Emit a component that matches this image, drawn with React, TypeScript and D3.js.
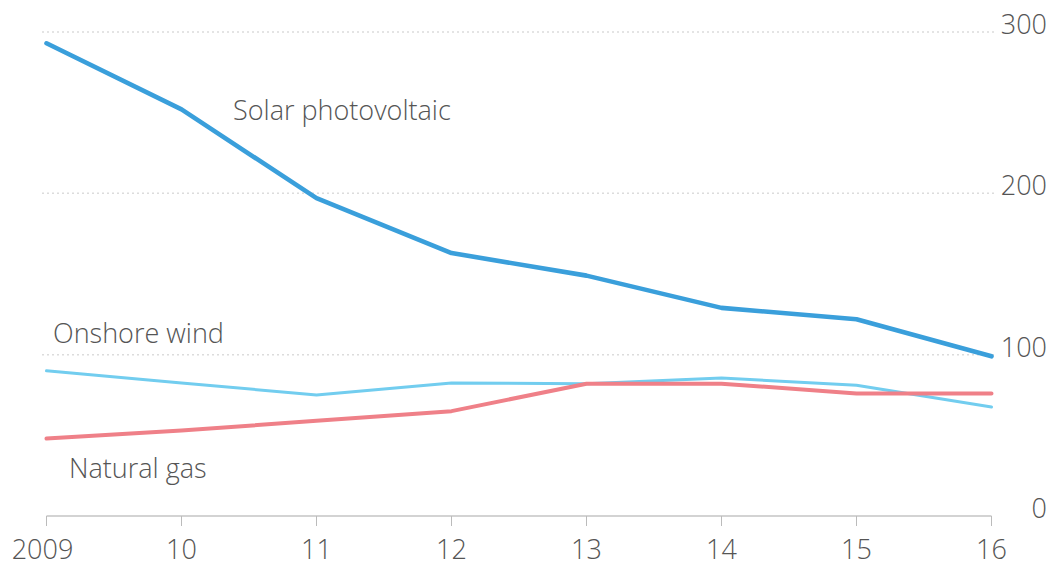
import React from "react";
import * as d3 from "d3";

const years = [2009, 2010, 2011, 2012, 2013, 2014, 2015, 2016];
const yearLabels = ["2009", "10", "11", "12", "13", "14", "15", "16"];
const solarPV = [293, 252, 197, 163, 149, 129, 122, 99];
const onshoreWind = [90, 82.5, 75, 82.5, 82, 85.5, 81, 67.5];
const naturalGas = [48, 53, 59, 65, 82, 82, 76, 76];
const yTicks = [0, 100, 200, 300];

const W = 1052;
const H = 567;
const FONT = "'Open Sans', 'Noto Sans', sans-serif";
const TEXT = "#555";

export default function App() {
  const x = d3.scaleLinear().domain([2009, 2016]).range([46.5, 991.5]);
  const y = d3.scaleLinear().domain([0, 300]).range([516, 32]);

  const line = d3
    .line<number>()
    .x((_, i) => x(years[i]))
    .y((v) => y(v));

  const series = [
    { values: onshoreWind, color: "#72cdef", width: 3 },
    { values: naturalGas, color: "#ef8088", width: 4 },
    { values: solarPV, color: "#3a9fdb", width: 4.6 },
  ];

  return (
    <svg
      width={W}
      height={H}
      style={{ position: "absolute", left: 0, top: 0, background: "#fff" }}
      fontFamily={FONT}
    >
      {/* gridlines */}
      {yTicks
        .filter((t) => t > 0)
        .map((t) => (
          <line
            key={t}
            x1={42}
            x2={994}
            y1={y(t)}
            y2={y(t)}
            stroke="#dcdcdc"
            strokeWidth={1.5}
            strokeDasharray="2 3"
          />
        ))}

      {/* baseline and year ticks */}
      <line x1={x(2009)} x2={x(2016)} y1={y(0)} y2={y(0)} stroke="#a8a8a8" strokeWidth={1.2} />
      {years.map((yr) => (
        <line
          key={yr}
          x1={x(yr)}
          x2={x(yr)}
          y1={y(0)}
          y2={y(0) + 10}
          stroke="#bbb"
          strokeWidth={1}
        />
      ))}

      {/* series lines */}
      {series.map((s, i) => (
        <path
          key={i}
          d={line(s.values) || ""}
          fill="none"
          stroke={s.color}
          strokeWidth={s.width}
          strokeLinejoin="round"
          strokeLinecap="round"
        />
      ))}

      {/* y tick labels on the right */}
      {yTicks.map((t) => (
        <text
          key={t}
          x={1047}
          y={y(t) + 2}
          textAnchor="end"
          fontSize={27}
          fontWeight={300}
          fill={TEXT}
        >
          {t}
        </text>
      ))}

      {/* x tick labels */}
      {years.map((yr, i) => (
        <text
          key={yr}
          x={x(yr) - (i === 0 ? 4 : 0)}
          y={559}
          textAnchor="middle"
          fontSize={27}
          fontWeight={300}
          fill={TEXT}
        >
          {yearLabels[i]}
        </text>
      ))}

      {/* series labels */}
      <text x={233} y={120} fontSize={27} fontWeight={300} fill={TEXT}>
        Solar photovoltaic
      </text>
      <text x={53} y={343} fontSize={27} fontWeight={300} fill={TEXT}>
        Onshore wind
      </text>
      <text x={69} y={478} fontSize={27} fontWeight={300} fill={TEXT}>
        Natural gas
      </text>
    </svg>
  );
}
